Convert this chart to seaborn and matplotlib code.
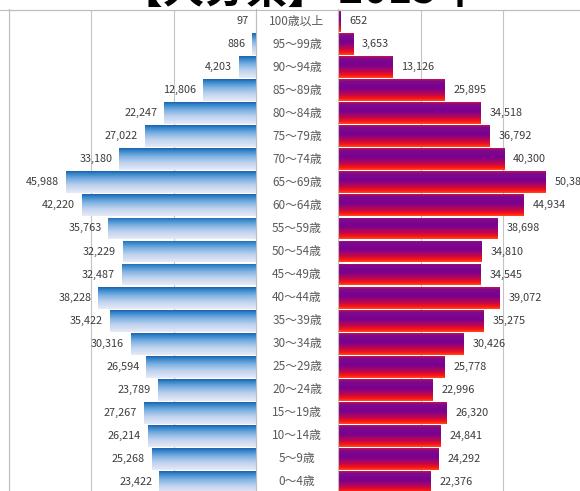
import numpy as np
import pandas as pd
import matplotlib
matplotlib.use("Agg")
import matplotlib.pyplot as plt
import matplotlib.transforms as mtransforms
from matplotlib.colors import LinearSegmentedColormap
from matplotlib.lines import Line2D
import seaborn as sns

# Population by 5-year age group (top row = oldest)
ages = ["100歳以上", "95～99歳", "90～94歳", "85～89歳", "80～84歳", "75～79歳",
        "70～74歳", "65～69歳", "60～64歳", "55～59歳", "50～54歳", "45～49歳",
        "40～44歳", "35～39歳", "30～34歳", "25～29歳", "20～24歳", "15～19歳",
        "10～14歳", "5～9歳", "0～4歳"]
male = [97, 886, 4203, 12806, 22247, 27022, 33180, 45988, 42220, 35763, 32229,
        32487, 38228, 35422, 30316, 26594, 23789, 27267, 26214, 25268, 23422]
female = [652, 3653, 13126, 25895, 34518, 36792, 40300, 50384, 44934, 38698, 34810,
          34545, 39072, 35275, 30426, 25778, 22996, 26320, 24841, 24292, 22376]
title = "【大分県】 2015年"
x_ticks = [0, 20000, 40000, 60000]

df = pd.DataFrame({"age": ages, "male": male, "female": female})

sns.set_theme(style="white")
plt.rcParams["font.family"] = ["Noto Sans CJK JP", "DejaVu Sans"]

W, H = 580, 491
fig = plt.figure(figsize=(W / 100, H / 100), dpi=100)
fig.patch.set_facecolor("white")


def rect(x0, x1, y0, y1):
    return [x0 / W, 1 - y1 / H, (x1 - x0) / W, (y1 - y0) / H]


axL = fig.add_axes(rect(8.5, 256, 9.5, 493.5))
axR = fig.add_axes(rect(338, 585.5, 9.5, 493.5))

sns.barplot(data=df, x="male", y="age", order=ages, ax=axL, width=0.95,
            color="#4a8fd0", saturation=1, orient="h")
sns.barplot(data=df, x="female", y="age", order=ages, ax=axR, width=0.95,
            color="#8a0a80", saturation=1, orient="h")

blue_cmap = LinearSegmentedColormap.from_list(
    "male_grad",
    [(0.0, "#235fa5"), (0.1, "#2c80c8"), (0.35, "#78aee0"),
     (0.65, "#bcd1ee"), (1.0, "#e8eaf7")])
red_cmap = LinearSegmentedColormap.from_list(
    "female_grad",
    [(0.0, "#d0104a"), (0.1, "#7e0a8c"), (0.42, "#7a0090"),
     (0.72, "#c2084c"), (0.88, "#ff1410"), (1.0, "#ff4a1e")])

grad = np.linspace(0, 1, 128).reshape(-1, 1)


def gradient_bars(ax, cmap):
    for p in list(ax.patches):
        x, y, w, h = p.get_x(), p.get_y(), p.get_width(), p.get_height()
        im = ax.imshow(grad, extent=(x, x + w, y + h, y), origin="upper",
                       aspect="auto", cmap=cmap, interpolation="bilinear",
                       zorder=2)
        im.set_clip_path(p)
        p.set_facecolor("none")
        p.set_edgecolor("none")


gradient_bars(axL, blue_cmap)
gradient_bars(axR, red_cmap)

n = len(ages)
for ax, lim in ((axL, (60000, 0)), (axR, (0, 60000))):
    ax.set_xlim(*lim)
    ax.set_ylim(n - 0.5, -0.5)
    ax.set_xticks(x_ticks)
    ax.set_xticklabels([])
    ax.set_yticks([])
    ax.set_xlabel("")
    ax.set_ylabel("")
    ax.tick_params(length=0)
    ax.grid(axis="x", color="#c4c4c4", linewidth=0.8)
    ax.set_axisbelow(True)
    ax.set_facecolor("none")
    for s in ax.spines.values():
        s.set_color("#bdbdbd")
        s.set_linewidth(0.8)
    ax.spines["bottom"].set_visible(False)

# value labels
for i, v in enumerate(male):
    axL.annotate(f"{v:,}", (v, i), xytext=(-5, 0), textcoords="offset points",
                 ha="right", va="center", fontsize=7.8, color="#3c3c3c")
for i, v in enumerate(female):
    axR.annotate(f"{v:,}", (v, i), xytext=(6.5, 0), textcoords="offset points",
                 ha="left", va="center", fontsize=7.8, color="#3c3c3c")

# age group labels in the centre column
tr = mtransforms.blended_transform_factory(fig.transFigure, axL.transData)
for i, a in enumerate(ages):
    fig.text(297 / W, i, a, transform=tr, ha="center", va="center",
             fontsize=8.5, color="#5a5a5a")

# top border across the whole chart
fig.add_artist(Line2D([0, 1], [1 - 9.5 / H, 1 - 9.5 / H], transform=fig.transFigure,
                      color="#bdbdbd", linewidth=0.8))

fig.text(300 / W, 1 - 3 / H, title, ha="center", va="baseline",
         fontsize=30, fontweight="bold", color="black")

fig.savefig("out.png", dpi=100, facecolor="white")
